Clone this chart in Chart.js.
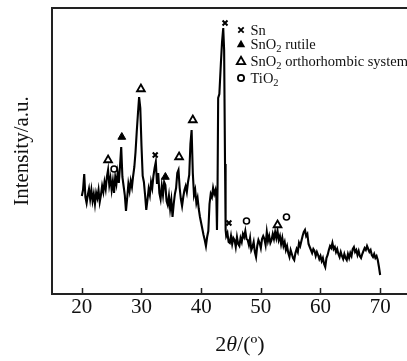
<!DOCTYPE html>
<html>
<head>
<meta charset="utf-8">
<script src="https://cdn.jsdelivr.net/npm/chart.js@4.4.1/dist/chart.umd.min.js"></script>
<style>
  html, body { margin: 0; padding: 0; background: #fff; }
  #wrap { position: relative; width: 407px; height: 361px; }
</style>
</head>
<body>
<div id="wrap"><canvas id="xrdChart"></canvas></div>
<script>
// XRD scan, 2θ in degrees vs. intensity (arbitrary units)
const theta = [
  20.0, 20.2, 20.4, 20.6, 20.8, 21.0, 21.2, 21.4, 21.6, 21.8,
  22.0, 22.2, 22.4, 22.6, 22.8, 23.0, 23.2, 23.4, 23.6, 23.8,
  24.0, 24.2, 24.4, 24.6, 24.8, 25.0, 25.2, 25.4, 25.6, 25.8,
  26.0, 26.2, 26.4, 26.6, 26.8, 27.0, 27.2, 27.4, 27.6, 27.8,
  28.0, 28.2, 28.4, 28.6, 28.8, 29.0, 29.2, 29.4, 29.6, 29.8,
  30.0, 30.2, 30.4, 30.6, 30.8, 31.0, 31.2, 31.4, 31.6, 31.8,
  32.0, 32.2, 32.4, 32.6, 32.8, 33.0, 33.2, 33.4, 33.6, 33.8,
  34.0, 34.2, 34.4, 34.6, 34.8, 35.0, 35.2, 35.4, 35.6, 35.8,
  36.0, 36.2, 36.4, 36.6, 36.8, 37.0, 37.2, 37.4, 37.6, 37.8,
  38.0, 38.2, 38.4, 38.6, 38.8, 39.0, 39.2, 39.4, 39.6, 39.8,
  40.0, 40.2, 40.4, 40.6, 40.8, 41.0, 41.2, 41.4, 41.6, 41.8,
  42.0, 42.2, 42.4, 42.55, 42.65, 42.75, 42.85, 43.05, 43.3, 43.5,
  43.7, 43.85, 44.0, 44.1, 44.2, 44.4, 44.6, 44.8, 45.0, 45.2,
  45.4, 45.6, 45.8, 46.0, 46.2, 46.4, 46.6, 46.8, 47.0, 47.2,
  47.4, 47.6, 47.8, 48.0, 48.2, 48.4, 48.6, 48.8, 49.0, 49.2,
  49.4, 49.6, 49.8, 50.0, 50.2, 50.4, 50.6, 50.8, 51.0, 51.2,
  51.4, 51.6, 51.8, 52.0, 52.2, 52.4, 52.6, 52.8, 53.0, 53.2,
  53.4, 53.6, 53.8, 54.0, 54.2, 54.4, 54.6, 54.8, 55.0, 55.2,
  55.4, 55.6, 55.8, 56.0, 56.2, 56.4, 56.6, 56.8, 57.0, 57.2,
  57.4, 57.6, 57.8, 58.0, 58.2, 58.4, 58.6, 58.8, 59.0, 59.2,
  59.4, 59.6, 59.8, 60.0, 60.2, 60.4, 60.6, 60.8, 61.0, 61.2,
  61.4, 61.6, 61.8, 62.0, 62.2, 62.4, 62.6, 62.8, 63.0, 63.2,
  63.4, 63.6, 63.8, 64.0, 64.2, 64.4, 64.6, 64.8, 65.0, 65.2,
  65.4, 65.6, 65.8, 66.0, 66.2, 66.4, 66.6, 66.8, 67.0, 67.2,
  67.4, 67.6, 67.8, 68.0, 68.2, 68.4, 68.6, 68.8, 69.0, 69.2,
  69.4, 69.6, 69.8, 70.0
];
const intensity = [
   98, 104, 120,  97,  91,  99, 105,  95, 104,  93,
  100,  90, 101,  96, 104,  92,  99, 108, 102, 112,
  105, 117, 124, 109, 116, 104, 113, 101, 117, 110,
  121, 111, 128, 147, 117, 108,  99,  83,  96, 110,
  103, 113, 107, 118, 127, 142, 162, 180, 197, 186,
  148, 118, 112,  99,  84,  94, 105,  99, 112, 106,
  118, 126, 132, 110, 121, 101,  95, 108,  99, 112,
  109,  93,  89,  98,  85,  94,  77,  90, 100, 106,
  121, 124, 106,  95,  88,  97, 104, 108, 102, 112,
  119, 150, 164, 121,  99, 104,  91,  96,  85,  77,
   71,  65,  59,  54,  48,  57,  63,  90, 100,  97,
  106, 100, 104,  96,  64, 108, 196, 200, 230, 252,
  266, 244, 130,  64,  58,  61,  52,  51,  58,  50,
   56,  54,  47,  57,  50,  48,  56,  52,  60,  57,
   63,  55,  54,  49,  56,  44,  47,  52,  42,  37,
   48,  54,  51,  46,  55,  58,  55,  49,  62,  53,
   58,  51,  54,  60,  55,  62,  56,  63,  54,  58,
   50,  56,  48,  52,  44,  48,  41,  37,  44,  40,
   36,  34,  41,  45,  42,  51,  48,  53,  58,  62,
   64,  58,  60,  50,  47,  44,  41,  45,  43,  38,
   42,  39,  35,  38,  33,  36,  30,  27,  36,  39,
   44,  48,  46,  51,  45,  47,  42,  45,  40,  37,
   42,  38,  35,  40,  36,  34,  40,  36,  41,  38,
   45,  47,  42,  44,  39,  43,  38,  36,  40,  43,
   46,  44,  48,  45,  42,  44,  39,  37,  40,  36,
   38,  34,  27,  19
];

// phase markers placed above the peaks
const snTheta = [32.3, 44.0, 44.65];
const snInt = [139, 271, 71];
const rutileTheta = [26.7, 34.0];
const rutileInt = [157, 117];
const orthoTheta = [24.4, 29.9, 36.3, 38.6, 52.8];
const orthoInt = [134, 205, 137, 174, 69];
const tio2Theta = [25.4, 47.6, 54.3];
const tio2Int = [125, 73, 77];

const tickValues = [20, 30, 40, 50, 60, 70];

// legend rows: marker kind + text parts ([text, isSubscript])
const legendRows = [
  { kind: 'cross', parts: [['Sn', false]] },
  { kind: 'filled', parts: [['SnO', false], ['2', true], [' rutile', false]] },
  { kind: 'open', parts: [['SnO', false], ['2', true], [' orthorhombic system', false]] },
  { kind: 'circle', parts: [['TiO', false], ['2', true]] }
];

const SERIF = '"Liberation Serif", "Times New Roman", serif';

function toPoints(xs, ys) {
  return xs.map((x, i) => ({ x: x, y: ys[i] }));
}

function drawMarker(ctx, kind, x, y) {
  ctx.save();
  ctx.strokeStyle = '#000';
  ctx.fillStyle = '#000';
  ctx.lineWidth = 1.8;
  ctx.beginPath();
  if (kind === 'cross') {
    const r = 2.7;
    ctx.moveTo(x - r, y - r); ctx.lineTo(x + r, y + r);
    ctx.moveTo(x + r, y - r); ctx.lineTo(x - r, y + r);
    ctx.stroke();
  } else if (kind === 'filled' || kind === 'open') {
    const r = 4.2;
    ctx.moveTo(x, y - r);
    ctx.lineTo(x + r, y + r * 0.75);
    ctx.lineTo(x - r, y + r * 0.75);
    ctx.closePath();
    if (kind === 'filled') ctx.fill(); else ctx.stroke();
  } else {
    ctx.arc(x, y, 3.1, 0, Math.PI * 2);
    ctx.stroke();
  }
  ctx.restore();
}

const framePlugin = {
  id: 'frame',
  afterDraw(chart) {
    const { ctx, chartArea: a } = chart;
    const xs = chart.scales.x;
    ctx.save();
    ctx.strokeStyle = '#222';
    ctx.lineWidth = 2;
    ctx.beginPath();
    ctx.moveTo(chart.width, a.top);
    ctx.lineTo(a.left, a.top);
    ctx.lineTo(a.left, a.bottom);
    ctx.lineTo(chart.width, a.bottom);
    ctx.stroke();

    // inward tick marks
    ctx.lineWidth = 1.5;
    ctx.beginPath();
    tickValues.forEach(v => {
      const px = Math.round(xs.getPixelForValue(v)) + 0.5;
      ctx.moveTo(px, a.bottom);
      ctx.lineTo(px, a.bottom - 6);
    });
    ctx.stroke();

    // x axis title: 2θ/(º) with italic theta
    const size = 22;
    const pieces = [['2', ''], ['θ', 'italic '], ['/(º)', '']];
    let total = 0;
    pieces.forEach(p => { ctx.font = p[1] + size + 'px ' + SERIF; total += ctx.measureText(p[0]).width; });
    let tx = 240 - total / 2;
    ctx.fillStyle = '#111';
    ctx.textBaseline = 'alphabetic';
    pieces.forEach(p => {
      ctx.font = p[1] + size + 'px ' + SERIF;
      ctx.fillText(p[0], tx, 351);
      tx += ctx.measureText(p[0]).width;
    });

    // legend
    const rowY = [30, 44, 61, 78];
    legendRows.forEach((row, i) => {
      const y = rowY[i];
      drawMarker(ctx, row.kind, 241, y);
      let x = 250.5;
      row.parts.forEach(([text, sub]) => {
        ctx.font = (sub ? 10.5 : 14.5) + 'px ' + SERIF;
        ctx.textBaseline = 'alphabetic';
        ctx.fillText(text, x, y + 5 + (sub ? 3 : 0));
        x += ctx.measureText(text).width;
      });
    });
    ctx.restore();
  }
};

new Chart(document.getElementById('xrdChart'), {
  type: 'line',
  data: {
    datasets: [
      {
        data: toPoints(theta, intensity),
        borderColor: '#000',
        borderWidth: 2.1,
        pointRadius: 0,
        tension: 0,
        fill: false,
        order: 2
      },
      {
        type: 'scatter',
        data: toPoints(snTheta, snInt),
        pointStyle: 'crossRot',
        pointRadius: 3.5,
        borderColor: '#000',
        pointBorderWidth: 2,
        order: 1
      },
      {
        type: 'scatter',
        data: toPoints(rutileTheta, rutileInt),
        pointStyle: 'triangle',
        pointRadius: 4.5,
        backgroundColor: '#000',
        borderColor: '#000',
        pointBorderWidth: 1,
        order: 1
      },
      {
        type: 'scatter',
        data: toPoints(orthoTheta, orthoInt),
        pointStyle: 'triangle',
        pointRadius: 4.5,
        backgroundColor: '#fff',
        borderColor: '#000',
        pointBorderWidth: 1.8,
        order: 1
      },
      {
        type: 'scatter',
        data: toPoints(tio2Theta, tio2Int),
        pointStyle: 'circle',
        pointRadius: 3,
        backgroundColor: '#fff',
        borderColor: '#000',
        pointBorderWidth: 1.6,
        order: 1
      }
    ]
  },
  options: {
    responsive: true,
    maintainAspectRatio: false,
    animation: false,
    layout: { autoPadding: false, padding: { top: 8, right: 0, left: 0, bottom: 0 } },
    plugins: {
      legend: { display: false },
      tooltip: { enabled: false }
    },
    scales: {
      x: {
        type: 'linear',
        min: 15,
        max: 74.5,
        grid: { display: false, drawTicks: false },
        border: { display: false },
        afterBuildTicks(scale) {
          scale.ticks = tickValues.map(v => ({ value: v }));
        },
        afterFit(scale) {
          scale.height = 67;
        },
        ticks: {
          color: '#111',
          padding: 1,
          maxRotation: 0,
          font: { family: SERIF, size: 21 }
        }
      },
      y: {
        min: 0,
        max: 286,
        grid: { display: false, drawTicks: false },
        border: { display: false },
        ticks: { display: false },
        afterFit(scale) {
          scale.width = 52;
        },
        title: {
          display: true,
          text: 'Intensity/a.u.',
          color: '#111',
          padding: { top: 10, bottom: 0 },
          font: { family: SERIF, size: 21 }
        }
      }
    }
  },
  plugins: [framePlugin]
});
</script>
</body>
</html>
